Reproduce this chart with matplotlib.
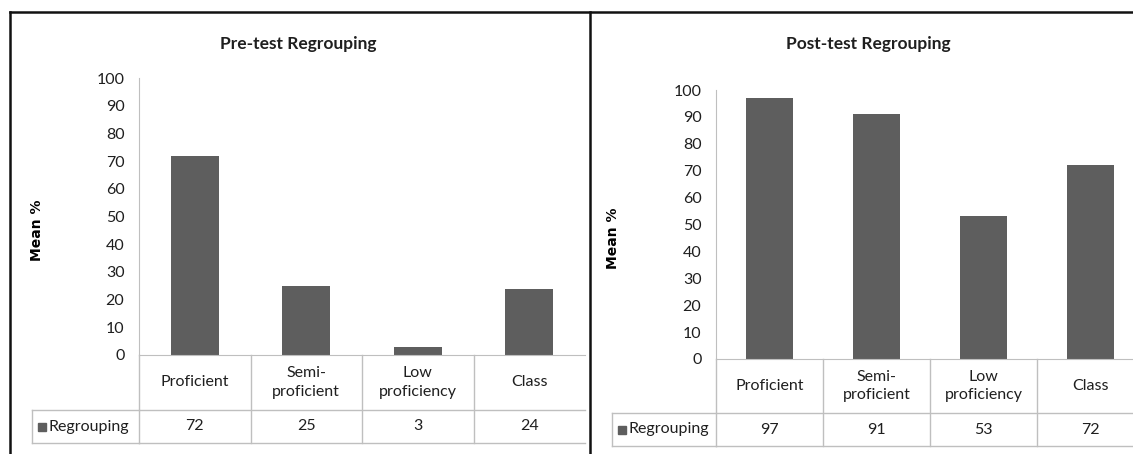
import matplotlib
matplotlib.use('Agg')
import matplotlib.pyplot as plt
import matplotlib.transforms as mtransforms
from matplotlib.lines import Line2D
from matplotlib.patches import Rectangle

categories = ["Proficient", "Semi-\nproficient", "Low\nproficiency", "Class"]
pre_values = [72, 25, 3, 24]
post_values = [97, 91, 53, 72]
series_name = "Regrouping"
titles = ["Pre-test Regrouping", "Post-test Regrouping"]
y_label = "Mean %"
y_ticks = list(range(0, 101, 10))

W, H = 1133, 454
fig = plt.figure(figsize=(W / 100, H / 100), dpi=100)


def fx(px):
    return px / W


def fy(py):
    return 1 - py / H


FONT = 'Lato'
BAR = '#5E5E5E'
GRID = '#BFBFBF'
TXT = '#1F1F1F'


def panel(values, title, ax_left, ax_right, ax_top, ax_zero, row1, row2,
          leg_left, title_x, title_y, ylab_x):
    ax = fig.add_axes([fx(ax_left), fy(ax_zero), fx(ax_right - ax_left),
                       (ax_zero - ax_top) / H])
    n = len(values)
    ax.bar(range(n), values, width=0.43, color=BAR)
    ax.set_xlim(-0.5, n - 0.5)
    ax.set_ylim(0, 100)
    ax.set_yticks(y_ticks)
    ax.set_xticks([])
    for s in ['top', 'right']:
        ax.spines[s].set_visible(False)
    ax.spines['left'].set_color(GRID)
    ax.spines['bottom'].set_color(GRID)
    ax.tick_params(axis='y', length=0, pad=10.5, labelsize=11.5, labelcolor=TXT)
    for lab in ax.get_yticklabels():
        lab.set_fontfamily(FONT)
    ax.patch.set_alpha(0)

    tr = mtransforms.blended_transform_factory(ax.transData, fig.transFigure)
    # vertical lines of table (axis continuation and dividers)
    for xv in [-0.5 + i for i in range(n)]:
        fig.add_artist(Line2D([xv, xv], [fy(ax_zero), fy(row2)], transform=tr,
                              color=GRID, lw=1, clip_on=False))
    # horizontal lines of value row
    for yv in [row1, row2]:
        fig.add_artist(Line2D([-0.5, n - 0.5], [fy(yv), fy(yv)], transform=tr,
                              color=GRID, lw=1, clip_on=False))
        fig.add_artist(Line2D([fx(leg_left), fx(ax_left)], [fy(yv), fy(yv)],
                              transform=fig.transFigure, color=GRID, lw=1))
    fig.add_artist(Line2D([fx(leg_left), fx(leg_left)], [fy(row1), fy(row2)],
                          transform=fig.transFigure, color=GRID, lw=1))
    # category labels and values
    for i, (c, v) in enumerate(zip(categories, values)):
        fig.text(i, fy((ax_zero + row1) / 2), c, transform=tr, ha='center',
                 va='center', fontsize=11.5, family=FONT, color=TXT,
                 linespacing=1.45)
        fig.text(i, fy((row1 + row2) / 2), str(v), transform=tr, ha='center',
                 va='center', fontsize=11.5, family=FONT, color=TXT)
    # legend key
    ym = (row1 + row2) / 2
    fig.add_artist(Rectangle((fx(leg_left + 6), fy(ym + 4)), fx(8), 8 / H,
                             transform=fig.transFigure, color=BAR))
    fig.text(fx(leg_left + 17), fy(ym), series_name, ha='left', va='center',
             fontsize=11.5, family=FONT, color=TXT)
    # title and y label
    fig.text(fx(title_x), fy(title_y), title, ha='center', va='center',
             fontsize=12.5, fontweight='bold', family=FONT, color=TXT)
    fig.text(fx(ylab_x), fy((ax_top + ax_zero) / 2 + 14), y_label,
             rotation=90, ha='center', va='center', fontsize=10,
             fontweight='bold', family='DejaVu Sans', color='black')
    return ax


panel(pre_values, titles[0], 139, 585, 78, 355, 410, 443, 32, 298, 44, 37)
panel(post_values, titles[1], 716, 1144, 90, 359, 413, 446, 612, 868, 44, 613)

# outer borders
for xs, ys in [([10, 1133], [12, 12]), ([10, 10], [12, 454]),
               ([590, 590], [12, 454])]:
    fig.add_artist(Line2D([fx(x) for x in xs], [fy(y) for y in ys],
                          transform=fig.transFigure, color='#111111', lw=1.8))

fig.savefig('out.png', dpi=100)
